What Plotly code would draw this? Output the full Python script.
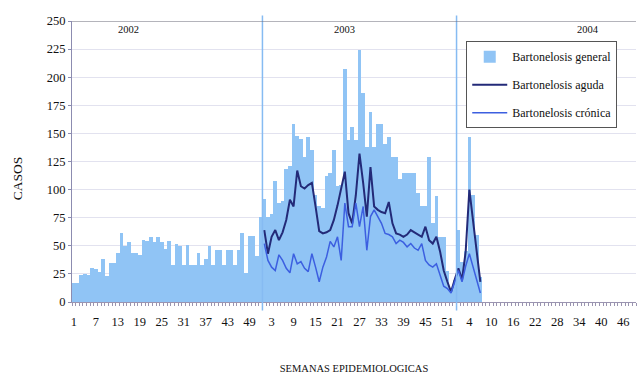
import plotly.graph_objects as go

# ---- data -------------------------------------------------------------
years = ["2002", "2003", "2004"]
weeks_per_year = [52, 53, 49]

general_2002 = [17, 17, 24, 25, 24, 30, 29, 27, 38, 23, 35, 35, 44, 61, 50, 53,
                44, 44, 42, 55, 54, 58, 53, 58, 53, 47, 54, 33, 52, 50, 33, 51,
                33, 33, 44, 33, 38, 50, 33, 46, 46, 33, 46, 46, 33, 46, 61, 26,
                59, 59, 41, 76]
general_2003 = [92, 76, 78, 108, 88, 90, 118, 121, 158, 148, 145, 129, 147, 135,
                95, 85, 84, 112, 115, 135, 103, 104, 207, 144, 156, 144, 224, 186,
                138, 169, 138, 158, 158, 141, 147, 129, 129, 109, 115, 115, 115,
                115, 97, 85, 85, 129, 70, 94, 58, 58, 28, 12, 20]
general_2004 = [64, 36, 45, 147, 95, 60, 22]

aguda_2003 = [64, 43, 58, 64, 55, 62, 73, 91, 85, 117, 103, 101, 104, 106, 85,
              63, 61, 62, 64, 73, 86, 100, 116, 79, 70, 95, 132, 106, 76, 120,
              85, 82, 80, 79, 89, 70, 61, 60, 58, 60, 64, 62, 60, 58, 67, 55, 52,
              58, 45, 28, 18, 9, 20]
aguda_2004 = [30, 20, 45, 100, 75, 45, 18]

cronica_2003 = [52, 37, 31, 28, 42, 37, 30, 26, 43, 34, 36, 30, 27, 43, 31, 18,
                31, 40, 54, 49, 58, 37, 88, 67, 67, 88, 67, 85, 46, 76, 82, 76,
                70, 61, 60, 58, 52, 55, 53, 49, 52, 48, 46, 52, 37, 33, 31, 34,
                23, 14, 12, 8, 18]
cronica_2004 = [28, 18, 32, 43, 32, 20, 8]

series_names = ["Bartonelosis general", "Bartonelosis aguda", "Bartonelosis crónica"]
y_ticks = [0, 25, 50, 75, 100, 125, 150, 175, 200, 225, 250]
x_title = "SEMANAS EPIDEMIOLOGICAS"
y_title = "CASOS"

# ---- build week axis ---------------------------------------------------
week_labels = []
for n in weeks_per_year:
    week_labels += [str(w) for w in range(1, n + 1)]
positions = list(range(1, len(week_labels) + 1))
tick_pos = positions[::6]
tick_txt = week_labels[::6]

start_2003 = weeks_per_year[0] + 1
start_2004 = weeks_per_year[0] + weeks_per_year[1] + 1

general = general_2002 + general_2003 + general_2004
x_general = positions[:len(general)]
aguda = aguda_2003 + aguda_2004
cronica = cronica_2003 + cronica_2004
x_lines = positions[start_2003 - 1:start_2003 - 1 + len(aguda)]

FONT = "Liberation Serif, Times New Roman, serif"
BAR_C = "#90c4f5"

fig = go.Figure()
fig.add_trace(go.Bar(x=x_general, y=general, name=series_names[0],
                     marker=dict(color=BAR_C, line=dict(width=0)),
                     legendgroup="g1"))
fig.add_trace(go.Scatter(x=x_lines, y=aguda, name=series_names[1], mode="lines",
                         line=dict(color="#232a78", width=2), legendgroup="g2"))
fig.add_trace(go.Scatter(x=x_lines, y=cronica, name=series_names[2], mode="lines",
                         line=dict(color="#3c5fe0", width=1.5), legendgroup="g3"))

# year separators and top frame
shapes = []
for s in (start_2003, start_2004):
    shapes.append(dict(type="line", xref="x", yref="paper", x0=s - 0.5, x1=s - 0.5,
                       y0=-0.03, y1=1.02, line=dict(color="#86bbf2", width=1.5)))
shapes.append(dict(type="line", xref="paper", yref="y", x0=0, x1=1, y0=250, y1=250,
                   line=dict(color="#6a6a78", width=1)))

annotations = []
year_centres = [16, 75, 141.5]
for yr, xc in zip(years, year_centres):
    annotations.append(dict(x=xc, y=0.971, xref="x", yref="paper", text=yr,
                            yanchor="middle", xanchor="center",
                            showarrow=False, font=dict(family=FONT, size=10.5, color="#111")))
annotations.append(dict(x=-0.096, y=0.44, xref="paper", yref="paper", text=y_title,
                        textangle=-90, showarrow=False, xanchor="center", yanchor="middle",
                        font=dict(family=FONT, size=13.5, color="#111")))

fig.update_layout(
    width=637, height=376,
    margin=dict(l=72, r=1, t=21, b=74),
    paper_bgcolor="white", plot_bgcolor="white",
    bargap=0,
    font=dict(family=FONT, color="#111"),
    shapes=shapes, annotations=annotations,
    showlegend=True,
    legend=dict(x=0.699, y=0.928, xanchor="left", yanchor="top",
                bgcolor="white", bordercolor="#555", borderwidth=1,
                font=dict(family=FONT, size=12, color="#111"),
                tracegroupgap=9, itemwidth=35),
    xaxis=dict(range=[0.5, len(positions) + 0.5], tickmode="array",
               tickvals=tick_pos, ticktext=tick_txt, ticks="", showgrid=False,
               zeroline=False, showline=True, linecolor="#9a94b0", linewidth=1,
               ticklabelstandoff=8,
               tickfont=dict(family=FONT, size=12.5, color="#111"),
               minor=dict(tick0=0.5, dtick=1, ticks="outside", ticklen=3,
                          tickcolor="#9a94b0", showgrid=False),
               title=dict(text=x_title, font=dict(family=FONT, size=10.5, color="#111"),
                          standoff=36)),
    yaxis=dict(range=[0, 250], tickmode="array", tickvals=y_ticks,
               showgrid=True, gridcolor="#e2e2ef", gridwidth=1, zeroline=False,
               showline=True, linecolor="#8c8cb0", linewidth=1,
               ticks="outside", ticklen=3, tickcolor="#8c8cb0",
               tickfont=dict(family=FONT, size=12.5, color="#111")),
)

fig.write_html("out.html")
